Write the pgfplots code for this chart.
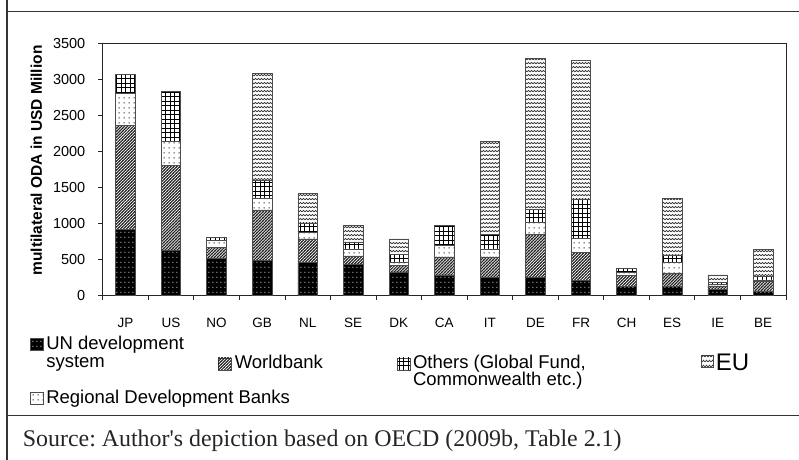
\documentclass[border=0pt]{standalone}
\usepackage{pgfplots}
\pgfplotsset{compat=1.18}
\usepackage{pgfplotstable}
\usepackage{fontspec}
\setmainfont{Liberation Sans}
\newfontfamily\seriffont{Liberation Serif}
\usetikzlibrary{patterns}

\pgfdeclarepatternformonly{undots}{\pgfqpoint{0pt}{0pt}}{\pgfqpoint{4pt}{4.5pt}}{\pgfqpoint{4pt}{4.5pt}}{
  \pgfpathrectangle{\pgfqpoint{1.5pt}{1.5pt}}{\pgfqpoint{1pt}{1pt}}\pgfusepath{fill}}
\pgfdeclarepatternformonly{rdbdots}{\pgfqpoint{0pt}{0pt}}{\pgfqpoint{4.5pt}{4.5pt}}{\pgfqpoint{4.5pt}{4.5pt}}{
  \pgfpathrectangle{\pgfqpoint{1.8pt}{1.8pt}}{\pgfqpoint{1.1pt}{1.1pt}}\pgfusepath{fill}}
\pgfdeclarepatternformonly{wblines}{\pgfqpoint{-1pt}{-1pt}}{\pgfqpoint{4pt}{4pt}}{\pgfqpoint{3pt}{3pt}}{
  \pgfsetlinewidth{1.05pt}
  \pgfpathmoveto{\pgfqpoint{-0.5pt}{-0.5pt}}\pgfpathlineto{\pgfqpoint{3.5pt}{3.5pt}}\pgfusepath{stroke}}
\pgfdeclarepatternformonly{othgrid}{\pgfqpoint{-1pt}{-1pt}}{\pgfqpoint{5.5pt}{5.5pt}}{\pgfqpoint{4.5pt}{4.5pt}}{
  \pgfsetlinewidth{0.95pt}
  \pgfpathmoveto{\pgfqpoint{-0.5pt}{0pt}}\pgfpathlineto{\pgfqpoint{5pt}{0pt}}
  \pgfpathmoveto{\pgfqpoint{0pt}{-0.5pt}}\pgfpathlineto{\pgfqpoint{0pt}{5pt}}\pgfusepath{stroke}}
\pgfdeclarepatternformonly{euwave}{\pgfqpoint{0pt}{0pt}}{\pgfqpoint{6pt}{4.4pt}}{\pgfqpoint{6pt}{4.4pt}}{
  \pgfsetlinewidth{0.7pt}
  \pgfpathmoveto{\pgfqpoint{0pt}{1.2pt}}
  \pgfpathcurveto{\pgfqpoint{1pt}{3.6pt}}{\pgfqpoint{2pt}{3.6pt}}{\pgfqpoint{3pt}{1.2pt}}
  \pgfpathcurveto{\pgfqpoint{4pt}{3.6pt}}{\pgfqpoint{5pt}{3.6pt}}{\pgfqpoint{6pt}{1.2pt}}
  \pgfusepath{stroke}}

\pgfplotstableread{
idx cat UN WB RDB OTH EU
0 JP 920 1445 440 260 0
1 US 630 1176 328 700 0
2 NO 514 153 97 36 0
3 GB 490 695 167 250 1482
4 NL 454 328 93 125 421
5 SE 435 111 98 97 236
6 DK 324 93 46 107 212
7 CA 282 250 158 278 0
8 IT 255 277 112 203 1287
9 DE 255 592 162 186 2097
10 FR 204 393 195 537 1931
11 CH 125 148 42 60 0
12 ES 120 190 144 106 783
13 IE 83 47 18 28 106
14 BE 51 143 19 56 370
}\data

\tikzset{
  unstyle/.style={fill=black, draw=black!70, postaction={pattern=undots, pattern color=white}},
  wbstyle/.style={fill=white, draw=black!70, postaction={pattern=wblines, pattern color=black!85}},
  rdbstyle/.style={fill=white, draw=black!70, postaction={pattern=rdbdots, pattern color=black}},
  othstyle/.style={fill=white, draw=black!70, postaction={pattern=othgrid, pattern color=black}},
  eustyle/.style={fill=white, draw=black!70, postaction={pattern=euwave, pattern color=black!80}},
}

\begin{document}
\frenchspacing
\begin{tikzpicture}
\useasboundingbox (0bp,0bp) rectangle (799bp,460bp);
% frame
\draw[black!80, line width=1.2bp] (7bp,0bp) -- (7bp,460bp);
\draw[black!80, line width=1.2bp] (7bp,448.3bp) -- (799bp,448.3bp);
\draw[black!80, line width=1.2bp] (7bp,44.3bp) -- (799bp,44.3bp);

\begin{axis}[
  at={(102.7bp,164.7bp)}, anchor=south west,
  scale only axis, width=683.3bp, height=252bp,
  xmin=-0.5, xmax=14.5, ymin=0, ymax=3500,
  ybar stacked, bar width=19.5bp,
  axis line style={black!85, line width=0.9bp},
  xtick={0,...,14},
  xticklabels={JP,US,NO,GB,NL,SE,DK,CA,IT,DE,FR,CH,ES,IE,BE},
  major x tick style={draw=none},
  minor xtick={-0.5,0.5,...,14.5},
  minor tick length=4.5bp,
  major tick length=4.5bp,
  tick style={black!85, line width=0.8bp},
  ytick={0,500,...,3500},
  tick align=outside,
  xtick pos=bottom, ytick pos=left,
  /pgf/number format/1000 sep={},
  /pgf/number format/assume math mode=true,
  xticklabel style={font=\fontsize{13.5bp}{15bp}\selectfont, anchor=base, yshift=-27.4bp, inner sep=0pt},
  yticklabel style={font=\fontsize{14.5bp}{17bp}\selectfont, anchor=east, inner sep=0pt, xshift=-12.7bp},
  ylabel={multilateral ODA in USD Million},
  every axis y label/.style={at={(axis description cs:-0.097,0.535)}, rotate=90, anchor=center, font=\fontsize{15.5bp}{18bp}\selectfont\bfseries},
]
\addplot[unstyle, line width=0.7bp] table[x=idx, y=UN]{\data};
\addplot[wbstyle, line width=0.7bp] table[x=idx, y=WB]{\data};
\addplot[rdbstyle, line width=0.7bp] table[x=idx, y=RDB]{\data};
\addplot[othstyle, line width=0.7bp] table[x=idx, y=OTH]{\data};
\addplot[eustyle, line width=0.7bp] table[x=idx, y=EU]{\data};
\end{axis}

% legend
\begin{scope}[line width=0.6bp]
\path[unstyle] (30bp,110bp) rectangle (43bp,122bp);
\node[anchor=base west, inner sep=0pt, font=\fontsize{18.5bp}{22bp}\selectfont] at (46bp,110bp) {UN development};
\node[anchor=base west, inner sep=0pt, font=\fontsize{18.5bp}{22bp}\selectfont] at (46bp,92.5bp) {system};
\path[wbstyle] (218bp,90bp) rectangle (231bp,102bp);
\node[anchor=base west, inner sep=0pt, font=\fontsize{18.5bp}{22bp}\selectfont] at (234.5bp,91bp) {Worldbank};
\path[othstyle] (397.5bp,90bp) rectangle (410bp,102bp);
\node[anchor=base west, inner sep=0pt, font=\fontsize{18.5bp}{22bp}\selectfont] at (412.7bp,91bp) {Others (Global Fund,};
\node[anchor=base west, inner sep=0pt, font=\fontsize{18.5bp}{22bp}\selectfont] at (412.7bp,74bp) {Commonwealth etc.)};
\path[eustyle] (701.7bp,93bp) rectangle (713.3bp,105bp);
\node[anchor=base west, inner sep=0pt, font=\fontsize{24bp}{28bp}\selectfont] at (715.5bp,89bp) {EU};
\path[rdbstyle] (30bp,56bp) rectangle (43bp,68bp);
\node[anchor=base west, inner sep=0pt, font=\fontsize{18.5bp}{22bp}\selectfont] at (46bp,56bp) {Regional Development Banks};
\end{scope}

\node[anchor=base west, inner sep=0pt, text=black!85, font=\seriffont\fontsize{23.9bp}{28bp}\selectfont] at (22.7bp,14bp) {Source: Author's depiction based on OECD (2009b, Table 2.1)};
\end{tikzpicture}
\end{document}
